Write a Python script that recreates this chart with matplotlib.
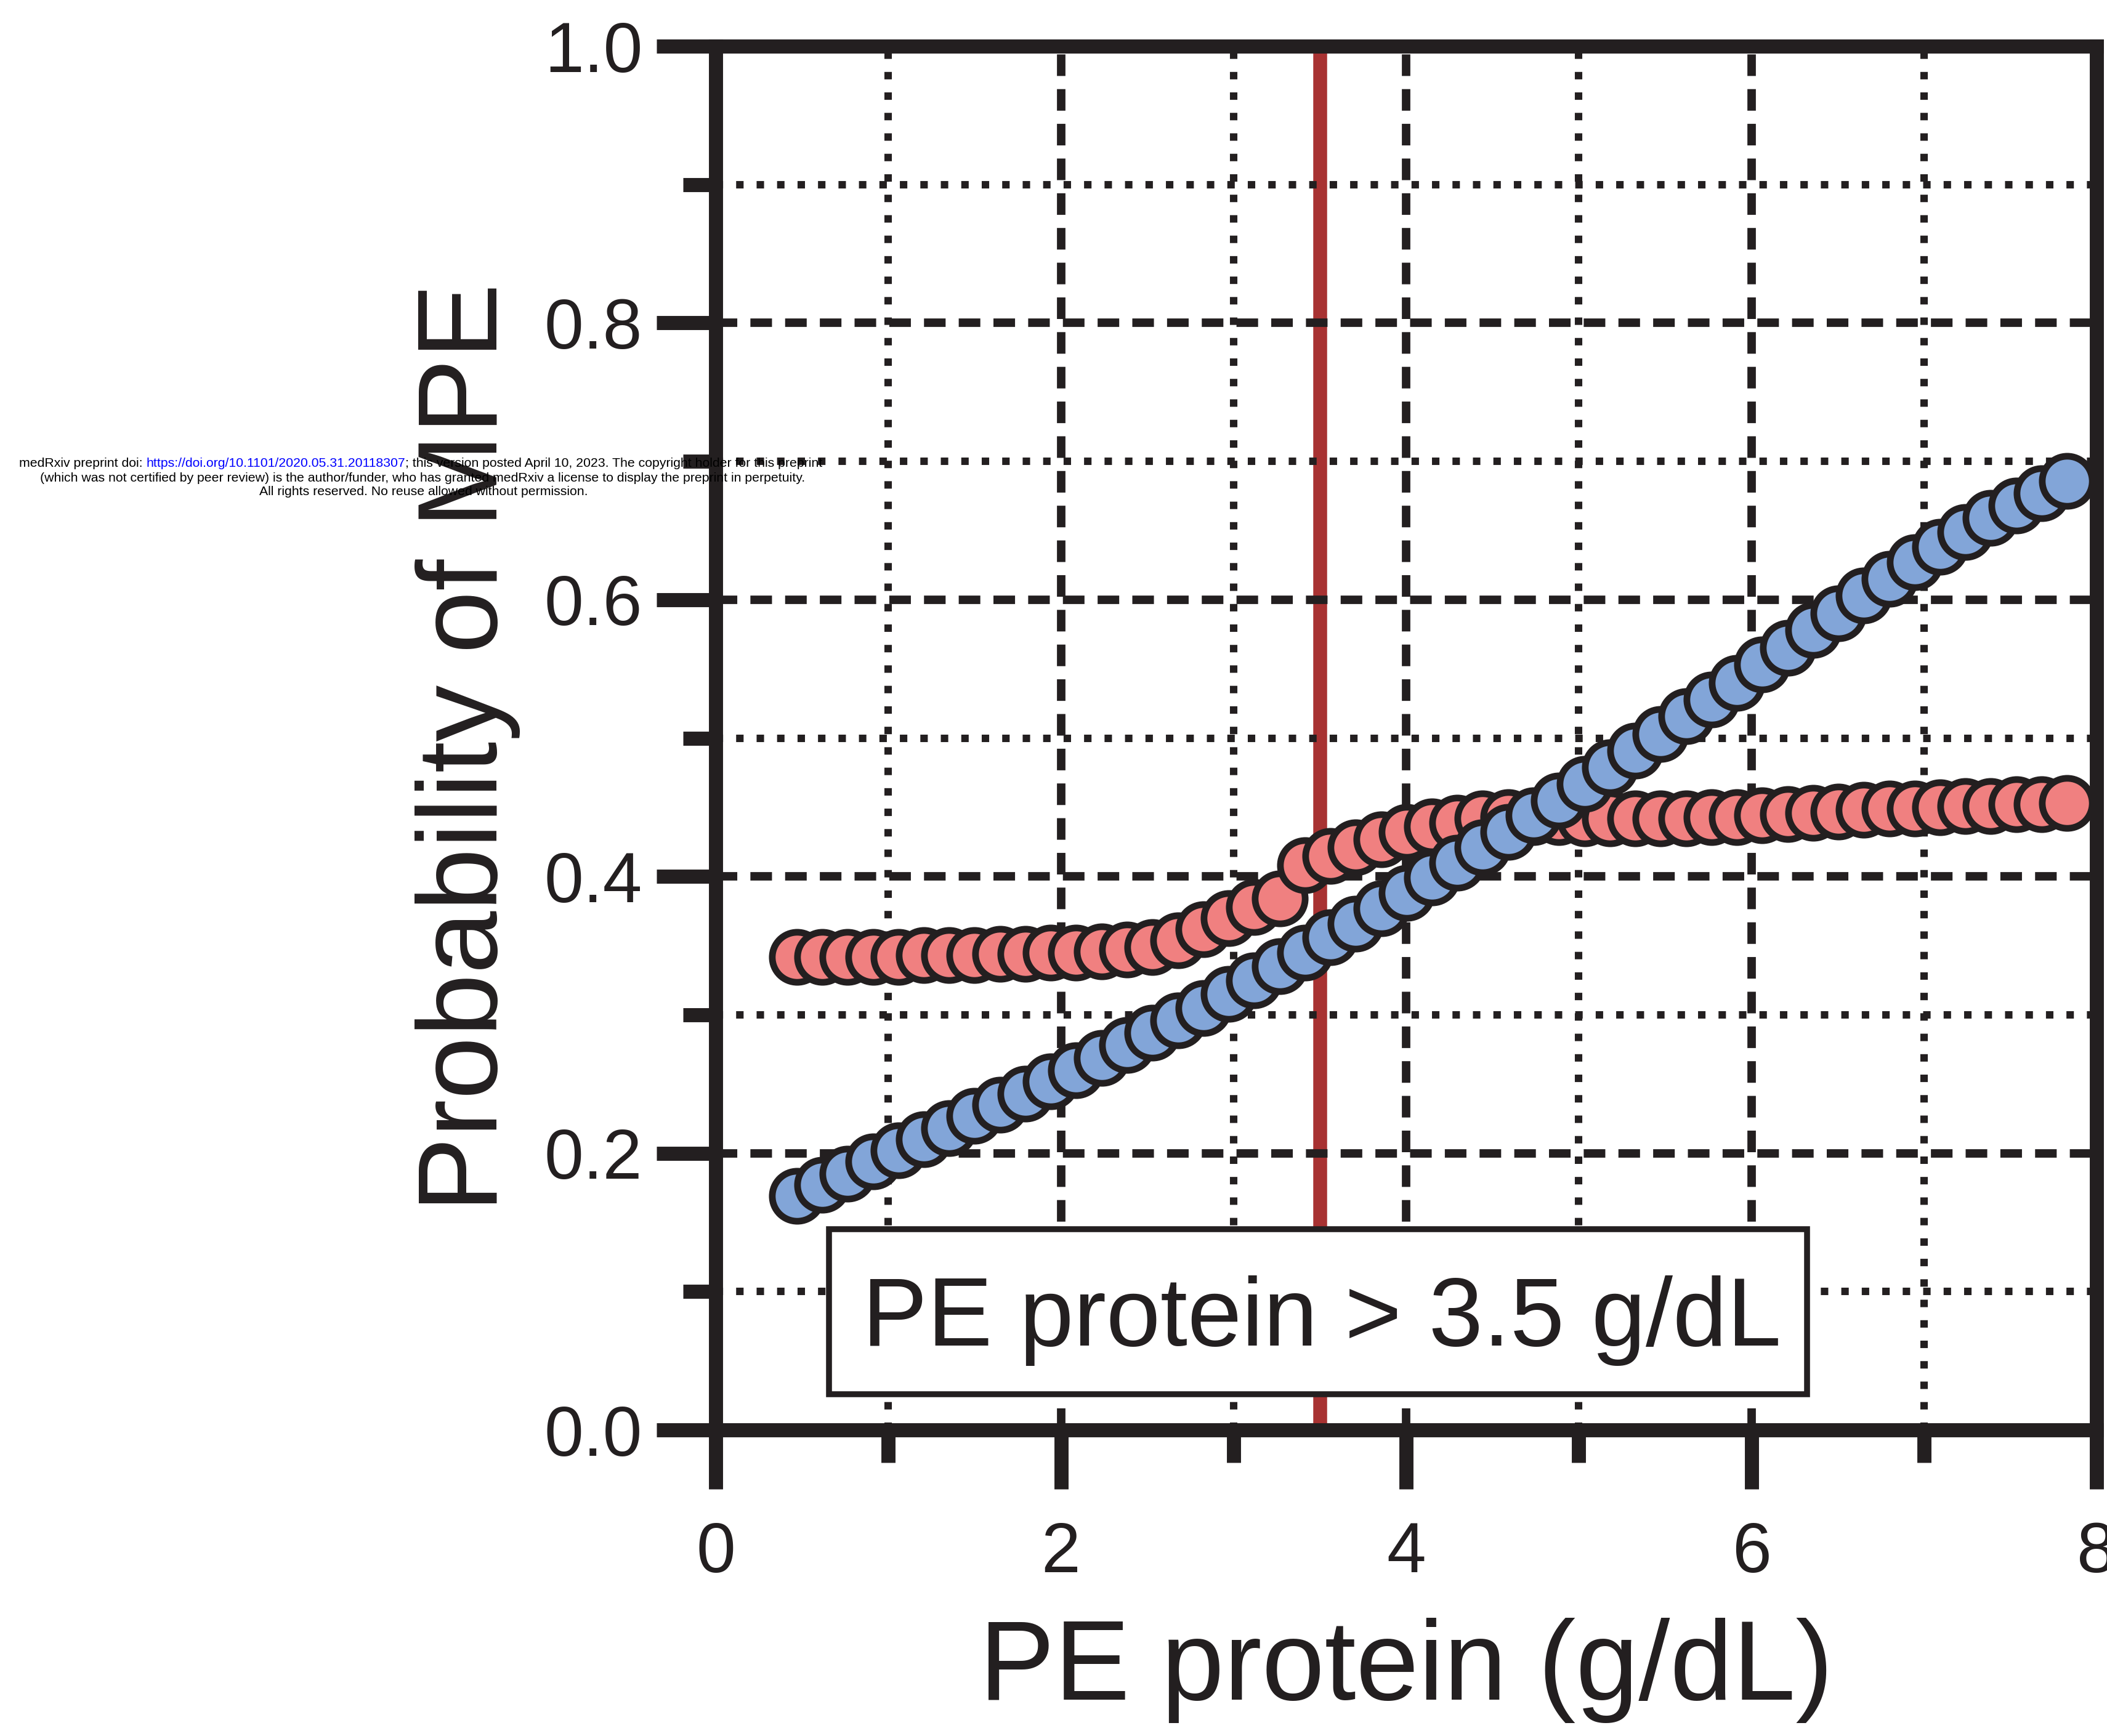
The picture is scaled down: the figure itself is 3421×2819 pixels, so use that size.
import matplotlib
matplotlib.use("Agg")
import matplotlib.pyplot as plt
from matplotlib.patches import Rectangle
from matplotlib.ticker import MultipleLocator, FormatStrFormatter

INK = "#231f20"

plt.rcParams.update({
    "font.family": "Liberation Sans",
    "text.color": INK,
    "axes.labelcolor": INK,
    "xtick.color": INK,
    "ytick.color": INK,
})

# PE protein grid (g/dL) and predicted probability of MPE for the two models
pe_protein = [0.470, 0.617, 0.764, 0.912, 1.059, 1.206, 1.353, 1.500, 1.648, 1.795,
              1.942, 2.089, 2.236, 2.384, 2.531, 2.678, 2.825, 2.972, 3.120, 3.267,
              3.414, 3.561, 3.708, 3.856, 4.003, 4.150, 4.297, 4.444, 4.592, 4.739,
              4.886, 5.033, 5.180, 5.328, 5.475, 5.622, 5.769, 5.916, 6.064, 6.211,
              6.358, 6.505, 6.652, 6.800, 6.947, 7.094, 7.241, 7.388, 7.536, 7.683,
              7.830]

prob_threshold = [0.342, 0.342, 0.342, 0.342, 0.342, 0.343, 0.343, 0.343, 0.344, 0.344,
                  0.345, 0.345, 0.346, 0.347, 0.349, 0.354, 0.362, 0.370, 0.378, 0.384,
                  0.408, 0.415, 0.421, 0.427, 0.432, 0.436, 0.439, 0.442, 0.443, 0.443,
                  0.443, 0.442, 0.442, 0.442, 0.442, 0.442, 0.443, 0.443, 0.444, 0.445,
                  0.446, 0.447, 0.448, 0.449, 0.449, 0.450, 0.451, 0.451, 0.452, 0.452,
                  0.453]

prob_continuous = [0.169, 0.177, 0.185, 0.194, 0.202, 0.210, 0.218, 0.227, 0.235, 0.243,
                   0.252, 0.260, 0.269, 0.278, 0.287, 0.296, 0.305, 0.315, 0.325, 0.335,
                   0.345, 0.356, 0.366, 0.377, 0.388, 0.399, 0.410, 0.421, 0.432, 0.444,
                   0.455, 0.467, 0.479, 0.491, 0.503, 0.516, 0.528, 0.540, 0.553, 0.565,
                   0.578, 0.590, 0.603, 0.615, 0.627, 0.638, 0.649, 0.659, 0.668, 0.677,
                   0.686]

cutoff = 3.5
x_ticks = [0, 2, 4, 6, 8]
y_ticks = [0.0, 0.2, 0.4, 0.6, 0.8, 1.0]

W, H, DPI = 3421, 2819, 300
fig = plt.figure(figsize=(W / DPI, H / DPI), dpi=DPI)
ax = fig.add_axes([0.33967, 0.17630, 0.65536, 0.79709])

# cutoff line sits under the grid
ax.axvline(cutoff, color="#a83232", lw=5.4, zorder=1)

ax.plot(pe_protein, prob_threshold, "o", ls="none", ms=19.5,
        mfc="#f08080", mec=INK, mew=2.6, zorder=3)
ax.plot(pe_protein, prob_continuous, "o", ls="none", ms=19.5,
        mfc="#82a5d8", mec=INK, mew=2.6, zorder=4)

ax.set_xlim(0, 8)
ax.set_ylim(0, 1)
ax.set_xticks(x_ticks)
ax.set_yticks(y_ticks)
ax.xaxis.set_minor_locator(MultipleLocator(1))
ax.yaxis.set_minor_locator(MultipleLocator(0.1))
ax.yaxis.set_major_formatter(FormatStrFormatter("%.1f"))

ax.grid(which="major", ls=(0, (2.55, 1.55)), lw=3.3, color=INK, zorder=2)
ax.grid(which="minor", ls=(0, (1, 1.75)), lw=2.9, color=INK, zorder=2)

for side in ["left", "right", "top", "bottom"]:
    ax.spines[side].set_linewidth(5.5)
    ax.spines[side].set_color(INK)
    ax.spines[side].set_zorder(6)

ax.tick_params(which="major", direction="out", length=23, width=5.5, labelsize=27.5)
ax.tick_params(which="minor", direction="out", length=12.7, width=5.5)
ax.tick_params(axis="x", which="major", pad=12.5)
ax.tick_params(axis="y", which="major", pad=5.5)

ax.set_xlabel("PE protein (g/dL)", fontsize=44)
ax.set_ylabel("Probability of MPE", fontsize=44)
ax.xaxis.set_label_coords(0.5, -0.1357)
ax.yaxis.set_label_coords(-0.1414, 0.493)

# annotation box
ax.add_patch(Rectangle((0.0821, 0.0258), 0.7083, 0.1193, transform=ax.transAxes,
                       facecolor="white", edgecolor=INK, lw=2.3, zorder=7))
ax.text(0.4389, 0.0610, "PE protein > 3.5 g/dL", transform=ax.transAxes,
        ha="center", va="baseline", fontsize=38, zorder=8)

# medRxiv stamp
fs = 5.1
t1 = fig.text(31 / W, 1 - 753 / H, "medRxiv preprint doi: ", ha="left", va="center",
              fontsize=fs, color="black", zorder=20)
t2 = ax.annotate("https://doi.org/10.1101/2020.05.31.20118307", xy=(1, 0), xycoords=t1,
                 ha="left", va="bottom", fontsize=fs, color="#0000ff", zorder=20,
                 annotation_clip=False)
ax.annotate("; this version posted April 10, 2023. The copyright holder for this preprint",
            xy=(1, 0), xycoords=t2, ha="left", va="bottom", fontsize=fs, color="black",
            zorder=20, annotation_clip=False)
fig.text(686 / W, 1 - 777 / H,
         "(which was not certified by peer review) is the author/funder, who has granted "
         "medRxiv a license to display the preprint in perpetuity.",
         ha="center", va="center", fontsize=fs, color="black", zorder=20)
fig.text(688 / W, 1 - 799 / H, "All rights reserved. No reuse allowed without permission.",
         ha="center", va="center", fontsize=fs, color="black", zorder=20)

fig.savefig("out.png", dpi=DPI)
